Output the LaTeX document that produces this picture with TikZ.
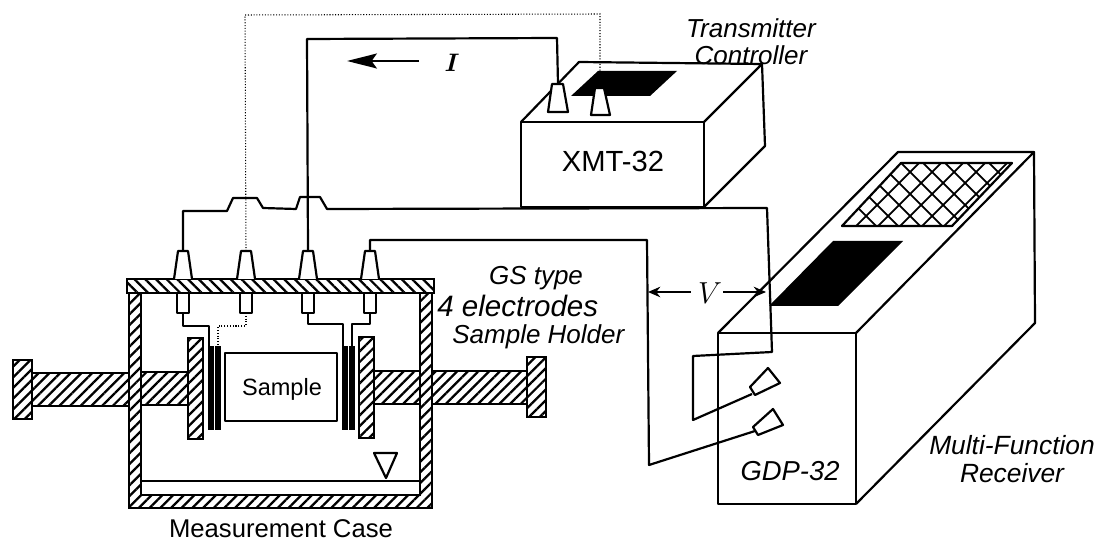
\documentclass[tikz,border=0pt]{standalone}
\usepackage{fontspec}
\setmainfont{Liberation Sans}
\usetikzlibrary{arrows.meta}
\usetikzlibrary{patterns.meta}

\tikzset{
 wire/.style={black, line width=1.25pt, line join=round},
 hide/.style={black, line width=.6pt, densely dotted},
 hatcha/.style={draw=black, line width=1.3pt, preaction={fill=white}, pattern={Lines[angle=45, distance=4.3pt, line width=1.3pt]}},
 hatchb/.style={draw=black, line width=1.3pt, preaction={fill=white}, pattern={Lines[angle=-45, distance=4.3pt, line width=1.3pt]}},
 plug/.style={draw=black, line width=1.25pt, fill=white, line join=round},
 box/.style={draw=black, line width=1.25pt, line join=round},
 tag/.style={inner sep=0, align=center, font=\fontsize{14.8}{15.4}\selectfont\itshape}
}

\begin{document}
\begin{tikzpicture} [x=.02cm, y=-.02cm]
\useasboundingbox (0,0) rectangle (1095,540);
\coordinate (O) at (0,0);
% rods and flanges
\draw[hatcha] (32,373) rectangle (129,406);
\draw[hatcha] (141,372) rectangle (188,405);
\draw[hatcha] (374,371) rectangle (420,404);
\draw[hatcha] (432,371) rectangle (527,404);
\draw[hatcha] (13,360) rectangle (32,419);
\draw[hatcha] (527,357) rectangle (546,417);
\draw[hatcha] (188,338) rectangle (203,439);
\draw[hatcha] (359,337) rectangle (374,438);
% case
\draw[hatcha] (129,293) -- (141,293) -- (141,495) -- (420,495) -- (420,293) -- (432,293) -- (432,508) -- (129,508) -- cycle;
\draw[hatchb] (127,279) rectangle (434,293);
\draw[wire] (141,481) -- (420,481);
\draw[wire] (374,453) -- (397,453) -- (386,478) -- cycle;
% sample and plates
\node[inner sep=0, font=\fontsize{13.4}{15}\selectfont] (sample) at (282,389) {Sample};
\draw[wire] (225,353) rectangle (337,421);
\foreach \x in {208, 215, 342, 349} {
 \fill[black] (\x,346) rectangle ++(6,84);
}
% electrodes of the case
\foreach \x/\nm in {183/ea, 246/eb, 308/ec, 370/ed} {
 \draw[plug] (\x-9,279) -- (\x-5,251) -- (\x+5,251) -- (\x+9,279);
 \draw[plug] (\x-6,293) rectangle (\x+6,313);
 \coordinate (\nm) at (\x,251);
 \coordinate (\nm b) at (\x,313);
}
% wires inside the case
\draw[wire] (eab) --++(0,13) -| (209,347);
\draw[hide] (ebb) --++(0,13) -| (218,347);
\draw[wire] (ecb) --++(0,11) -| (343,346);
\draw[wire] (edb) --++(0,11) -| (352,346);
% transmitter
\draw[box] (521,122) rectangle (704,207);
\draw[box] (521,122) -- (579,62) -- (762,64) -- (704,122);
\draw[box] (762,64) -- (765,146) -- (704,207);
\fill[black] (598,71) -- (677,71) -- (650,96) -- (571,96) -- cycle;
\node[inner sep=0, font=\fontsize{16.6}{18}\selectfont] (xmt) at (613,161) {XMT-32};
\draw[plug] (548,112) -- (552,84) -- (563,84) -- (568,112) -- cycle;
\draw[plug] (591,115) -- (595,88) -- (604,88) -- (610,115) -- cycle;
\coordinate (ta) at (558,84);
\coordinate (tb) at (600,88);
% receiver
\draw[box] (718,333) rectangle (856,504);
\draw[box] (718,333) -- (898,152) -- (1034,152) -- (856,333);
\draw[box] (1034,152) -- (1035,323) -- (856,504);
\fill[black] (833,241) -- (903,241) -- (838,306) -- (769,306) -- cycle;
\begin{scope}
 \clip (901,163) -- (1012,163) -- (952,226) -- (842,226) -- cycle;
 \foreach \x in {0, 22, ..., 220} {
  \draw[black, line width=1pt] (820+\x,240) --++(85,-85);
  \draw[black, line width=1pt] (800+\x,150) --++(85,85);
 }
\end{scope}
\draw[wire] (901,163) -- (1012,163) -- (952,226) -- (842,226) -- cycle;
\node[inner sep=0, font=\fontsize{15.6}{18}\selectfont\itshape] (gdp) at (790,471) {GDP-32};
\draw[plug] (768,368) -- (780,383) -- (755,395) -- (750,387) -- cycle;
\draw[plug] (773,409) -- (783,425) -- (758,435) -- (753,427) -- cycle;
\coordinate (ra) at (752,394);
\coordinate (rb) at (755,431);
% wires between the boxes
\draw[wire] (ea) -- (183,211) -- (227,211) -- (233,198) -- (257,198) -- (263,208) -- (296,209) -- (300,197) -- (320,197) -- (327,209) -- (767,208) -- (772,352) -- (693,356) -- (693,420) -- (ra);
\draw[wire] (ec) -- (307,39) -- (557,38) -- (ta);
\draw[wire] (ed) |- (647,240) -- (649,465) -- (rb);
\draw[hide] (eb) -- (245,15) -- (600,14) -- (tb);
% arrows and labels
\node[inner sep=0, font=\fontsize{14.5}{15}\selectfont\boldmath] (cur) at (452,63) {$I$};
\node[inner sep=0, font=\fontsize{16}{16}\selectfont] (volt) at (710,293) {$V$};
\coordinate (ihead) at (347,61);
\coordinate (itail) at (419,61);
\coordinate (vleft) at (648,292);
\coordinate (vright) at (766,292);
\draw[black, line width=1.2pt, -{Stealth[length=17pt, width=8.5pt, inset=3pt]}] (itail) -- (ihead);
\draw[black, line width=1pt, -{Stealth[length=7pt, width=6pt]}] (volt.west |- vleft) ++(-7,0) -- (vleft);
\draw[black, line width=1pt, -{Stealth[length=7pt, width=6pt]}] (volt.east |- vright) ++(1,0) -- (vright);
\node[tag] (trans) at (751,41.5) {Transmitter\\Controller};
\node[tag] (gs) at (536,278) {GS type};
\node[tag, anchor=west, font=\fontsize{16.8}{18}\selectfont\itshape] (four) at (437,306) {4 electrodes};
\node[tag, anchor=west] (holder) at (452,337) {Sample Holder};
\node[inner sep=0, font=\fontsize{14.6}{16}\selectfont] (meas) at (281,528.5) {Measurement Case};
\node[tag, font=\fontsize{15}{16}\selectfont\itshape] (multi) at (1012,459) {Multi-Function\\Receiver};
\end{tikzpicture}
\end{document}
